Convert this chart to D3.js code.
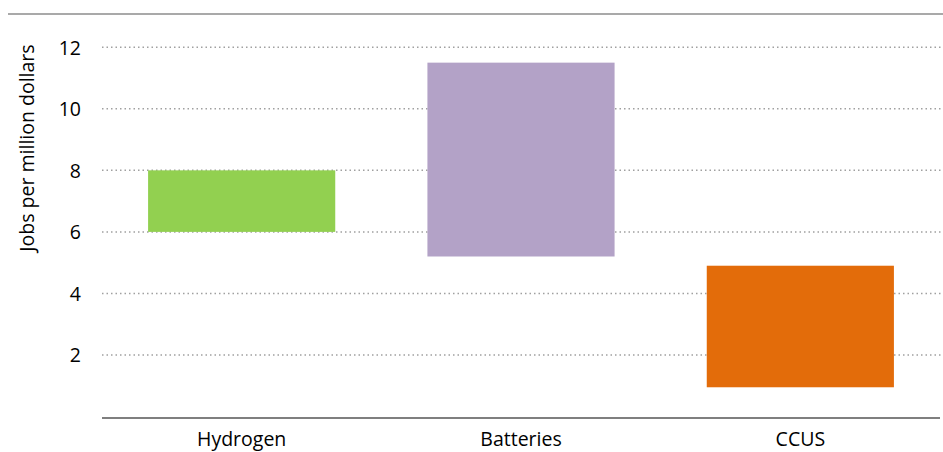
<!DOCTYPE html>
<html>
<head>
<meta charset="utf-8">
<script src="https://cdn.jsdelivr.net/npm/d3@7"></script>
<style>
  html, body { margin: 0; padding: 0; background: #fff; }
  svg text { font-family: "Open Sans", "Noto Sans", sans-serif; fill: #000; }
</style>
</head>
<body>
<svg id="chart" width="943" height="452"></svg>
<script>
// Job intensity ranges by technology (jobs per million dollars)
const categories = ["Hydrogen", "Batteries", "CCUS"];
const lowValues  = [6, 5.2, 0.95];
const highValues = [8, 11.5, 4.9];
const barColors  = ["#92D050", "#B3A2C7", "#E36C0A"];
const yTicks     = [2, 4, 6, 8, 10, 12];
const yTitle     = "Jobs per million dollars";

const W = 943, H = 452;
const margin = { top: 14, right: 3, bottom: 35, left: 102 };
const fontSize = "19.5px";

const svg = d3.select("#chart");

const x = d3.scaleBand()
  .domain(categories)
  .range([margin.left, W - margin.right])
  .paddingInner(0.33)
  .paddingOuter(0.165);

const y = d3.scaleLinear()
  .domain([0, 13])
  .range([416.5, 416.5 - 13 * 30.77]);

// top frame rule
svg.append("line")
  .attr("x1", 8).attr("x2", W)
  .attr("y1", 14).attr("y2", 14)
  .attr("stroke", "#8c8c8c").attr("stroke-width", 1.5);

// dotted horizontal gridlines
svg.append("g")
  .selectAll("line")
  .data(yTicks)
  .join("line")
  .attr("x1", margin.left).attr("x2", W)
  .attr("y1", d => y(d)).attr("y2", d => y(d))
  .attr("stroke", "#a0a0a0")
  .attr("stroke-width", 1.5)
  .attr("stroke-dasharray", "1.5,3");

// floating range bars
svg.append("g")
  .selectAll("rect")
  .data(categories)
  .join("rect")
  .attr("x", d => x(d))
  .attr("width", x.bandwidth())
  .attr("y", (d, i) => y(highValues[i]))
  .attr("height", (d, i) => y(lowValues[i]) - y(highValues[i]))
  .attr("fill", (d, i) => barColors[i]);

// y axis (labels only)
const yAxis = svg.append("g")
  .attr("transform", `translate(${margin.left - 21},0)`)
  .call(d3.axisLeft(y).tickValues(yTicks).tickSize(0).tickPadding(0).tickFormat(d3.format("d")));
yAxis.select(".domain").remove();
yAxis.selectAll("text")
  .style("font-size", fontSize)
  .attr("dy", "0.36em");

// x axis baseline and category labels
const xAxis = svg.append("g")
  .attr("transform", `translate(0,${y(0) + 1.5})`)
  .call(d3.axisBottom(x).tickSize(0).tickPadding(14));
xAxis.select(".domain")
  .attr("stroke", "#555").attr("stroke-width", 1.5)
  .attr("d", `M${margin.left},0H${W - margin.right}`);
xAxis.selectAll("text").style("font-size", fontSize);

// y axis title
svg.append("text")
  .attr("transform", `translate(34,148) rotate(-90)`)
  .attr("text-anchor", "middle")
  .style("font-size", fontSize)
  .text(yTitle);
</script>
</body>
</html>
